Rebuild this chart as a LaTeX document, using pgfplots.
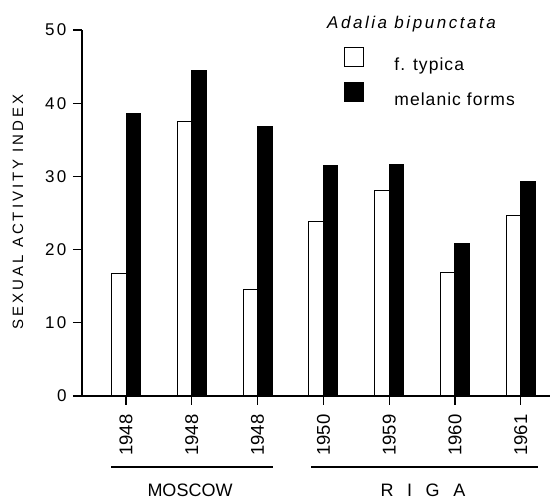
\documentclass[border=0pt]{standalone}
\usepackage{fontspec}
\setmainfont{Liberation Sans}
\newfontfamily\spaced[LetterSpace=15]{Liberation Sans}
\newfontfamily\wspaced[LetterSpace=20]{Liberation Sans}
\usepackage{pgfplots}
\pgfplotsset{compat=1.18}
\begin{document}
\begin{tikzpicture}
\begin{axis}[
  at={(82pt,104pt)}, anchor=south west,
  scale only axis, width=468pt, height=366pt,
  xmin=-0.669, xmax=6.444, ymin=0, ymax=50,
  axis x line*=bottom, axis y line*=left,
  axis line style={line width=1.4pt, black},
  xtick={0,...,6},
  xticklabels={1948,1948,1948,1950,1959,1960,1961},
  x tick label style={rotate=90, anchor=east, font=\fontsize{18.5}{18.5}\selectfont},
  xticklabel shift=6pt,
  ytick={0,10,...,50},
  y tick label style={font=\spaced\fontsize{17}{17}\selectfont, xshift=-3pt},
  /pgf/number format/assume math mode=true,
  tick align=outside, major tick length=9pt,
  tick style={black, line width=1.2pt},
  ylabel={SEXUAL ACTIVITY INDEX},
  ylabel style={font=\wspaced\fontsize{15}{15}\selectfont, at={(axis description cs:-0.1368,0.503)}, anchor=center},
  ybar, bar width=14.5pt,
  clip=false,
  legend image code/.code={\draw[#1, line width=1.2pt] (0pt,-2pt) rectangle (19pt,17pt);},
  legend style={at={(0.5598,0.9536)}, anchor=north west, draw=none, fill=none,
    font=\fontsize{17.5}{17.5}\selectfont\addfontfeatures{LetterSpace=6}, inner sep=0pt, column sep=30pt, row sep=10pt,
    nodes={inner sep=0pt}},
  legend cell align=left,
]
\addplot[bar shift=-7.25pt, fill=white, draw=black, line width=1pt]
  coordinates {(0,16.8) (1,37.5) (2,14.5) (3,23.8) (4,28.1) (5,16.9) (6,24.6)};
\addlegendentry{f. typica}
\addplot[bar shift=7.25pt, fill=black, draw=black, line width=1pt]
  coordinates {(0,38.6) (1,44.4) (2,36.8) (3,31.5) (4,31.6) (5,20.9) (6,29.3)};
\addlegendentry{melanic forms}
\end{axis}
\node[anchor=base west, font=\spaced\itshape\fontsize{17}{17}\selectfont, inner sep=0pt] at (327pt,471pt) {Adalia bipunctata};
\draw[line width=1.2pt] (111pt,33pt) -- (273pt,33pt);
\draw[line width=1.2pt] (311pt,33pt) -- (538pt,33pt);
\node[anchor=base, font=\fontsize{18}{18}\selectfont, inner sep=0pt] at (190pt,3pt) {MOSCOW};
\node[anchor=base, font=\fontsize{18}{18}\selectfont, inner sep=0pt] at (423pt,3pt) {R\hspace{0.75em}I\hspace{0.75em}G\hspace{0.75em}A};
\pgfresetboundingbox
\path (0,0) rectangle (550pt,500pt);
\end{tikzpicture}
\end{document}
